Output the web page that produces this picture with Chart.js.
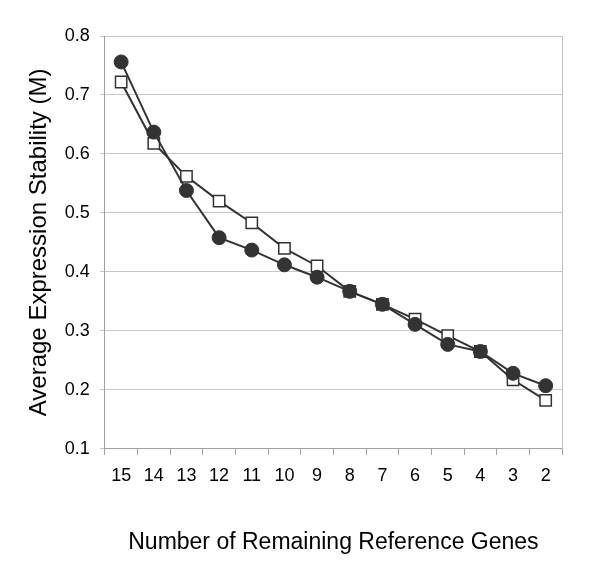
<!DOCTYPE html>
<html>
<head>
<meta charset="utf-8">
<script src="https://cdn.jsdelivr.net/npm/chart.js@4"></script>
<style>
  html, body { margin: 0; padding: 0; background: #fff; }
  canvas { display: block; }
</style>
</head>
<body>
<canvas id="chart" width="600" height="563"></canvas>
<script>
// categories: number of remaining reference genes
const genes = ['15', '14', '13', '12', '11', '10', '9', '8', '7', '6', '5', '4', '3', '2'];
// filled circles
const circleValues = [0.756, 0.637, 0.538, 0.458, 0.437, 0.412, 0.391, 0.367, 0.345, 0.311, 0.277, 0.265, 0.228, 0.207];
// open squares
const squareValues = [0.722, 0.618, 0.562, 0.520, 0.483, 0.440, 0.410, 0.367, 0.345, 0.320, 0.292, 0.265, 0.217, 0.182];

const font = 'Liberation Sans, Arial, sans-serif';

// draw the right edge of the plot frame
const frame = {
    id: 'frame',
    afterDraw(chart) {
        const a = chart.chartArea;
        const ctx = chart.ctx;
        ctx.save();
        ctx.strokeStyle = '#c0c0c0';
        ctx.lineWidth = 1;
        ctx.beginPath();
        ctx.moveTo(Math.round(a.right) + 0.5, a.top);
        ctx.lineTo(Math.round(a.right) + 0.5, a.bottom);
        ctx.stroke();
        ctx.restore();
    }
};

new Chart(document.getElementById('chart'), {
    type: 'line',
    data: {
        labels: genes,
        datasets: [
            {
                data: circleValues,
                borderColor: '#333333',
                backgroundColor: '#333333',
                borderWidth: 2,
                pointStyle: 'circle',
                pointRadius: 7,
                pointBorderWidth: 1,
                pointBackgroundColor: '#333333',
                pointBorderColor: '#333333'
            },
            {
                data: squareValues,
                borderColor: '#333333',
                backgroundColor: '#ffffff',
                borderWidth: 2,
                pointStyle: 'rect',
                pointRadius: 8,
                pointBorderWidth: 1.5,
                pointBackgroundColor: '#ffffff',
                pointBorderColor: '#333333'
            }
        ]
    },
    options: {
        responsive: false,
        animation: false,
        layout: { padding: { left: 10, right: 38, top: 36, bottom: 7 } },
        plugins: {
            legend: { display: false },
            tooltip: { enabled: false }
        },
        scales: {
            x: {
                offset: true,
                grid: {
                    offset: true,
                    drawOnChartArea: false,
                    drawTicks: true,
                    tickLength: 6,
                    color: '#a0a0a0'
                },
                border: { color: '#a0a0a0' },
                ticks: {
                    color: '#000',
                    padding: 10,
                    font: { family: font, size: 18 },
                    maxRotation: 0,
                    autoSkip: false
                },
                title: {
                    display: true,
                    text: 'Number of Remaining Reference Genes',
                    color: '#000',
                    font: { family: font, size: 23 },
                    padding: { top: 32, bottom: 0 }
                }
            },
            y: {
                min: 0.1,
                max: 0.8,
                grid: {
                    color: '#c8c8c8',
                    tickLength: 5
                },
                border: { color: '#a0a0a0' },
                ticks: {
                    stepSize: 0.1,
                    color: '#000',
                    padding: 10,
                    font: { family: font, size: 18 },
                    callback: v => v.toFixed(1)
                },
                title: {
                    display: true,
                    text: 'Average Expression Stability (M)',
                    color: '#000',
                    font: { family: font, size: 24 },
                    padding: { top: 15, bottom: 1 }
                }
            }
        }
    },
    plugins: [frame]
});
</script>
</body>
</html>
